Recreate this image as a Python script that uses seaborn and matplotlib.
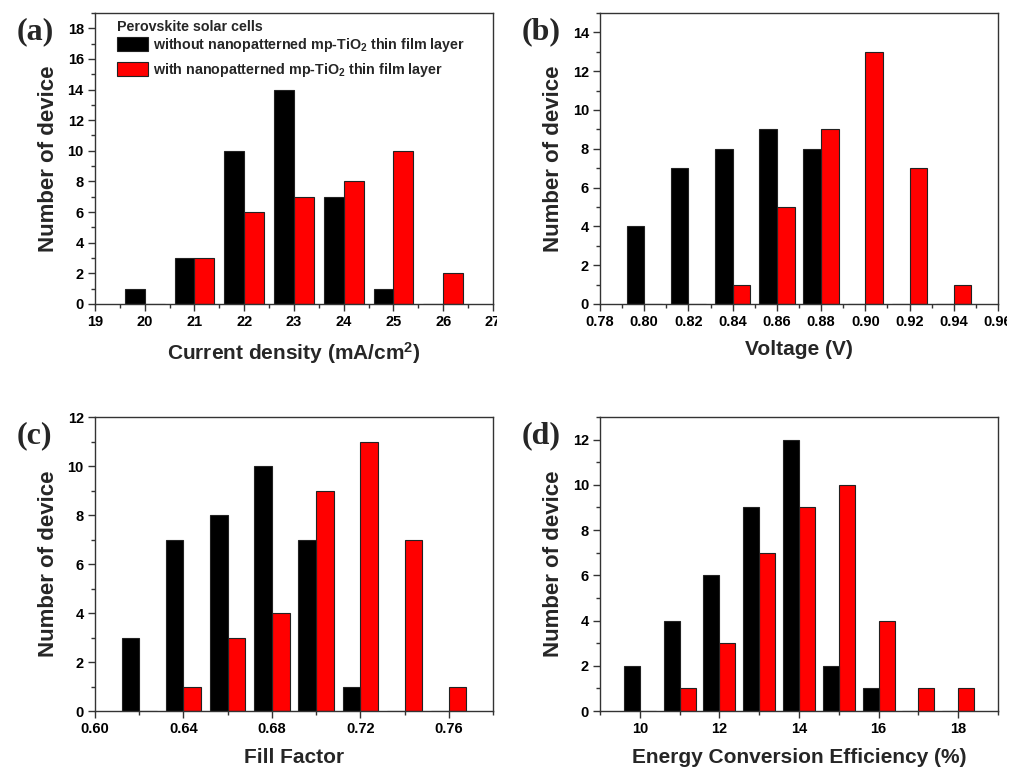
import pandas as pd
import matplotlib
matplotlib.use("agg")
import matplotlib.pyplot as plt
from matplotlib.patches import Patch
from matplotlib.ticker import MultipleLocator
from matplotlib.transforms import Bbox, TransformedBbox
import seaborn as sns

# ---------------- datos ----------------
jsc_bins = [20, 21, 22, 23, 24, 25, 26]
jsc_without = [1, 3, 10, 14, 7, 1, 0]
jsc_with = [0, 3, 6, 7, 8, 10, 2]

voc_bins = [0.80, 0.82, 0.84, 0.86, 0.88, 0.90, 0.92, 0.94]
voc_without = [4, 7, 8, 9, 8, 0, 0, 0]
voc_with = [0, 0, 1, 5, 9, 13, 7, 1]

ff_bins = [0.62, 0.64, 0.66, 0.68, 0.70, 0.72, 0.74, 0.76]
ff_without = [3, 7, 8, 10, 7, 1, 0, 0]
ff_with = [0, 1, 3, 4, 9, 11, 7, 1]

pce_bins = [10, 11, 12, 13, 14, 15, 16, 17, 18]
pce_without = [2, 4, 6, 9, 12, 2, 1, 0, 0]
pce_with = [0, 1, 3, 7, 9, 10, 4, 1, 1]

groups = ["without", "with"]
legend_labels = ["without nanopatterned mp-TiO$_2$ thin film layer",
                 "with nanopatterned mp-TiO$_2$ thin film layer"]
colores = {"without": "black", "with": "#ff0000"}

# ---------------- estilo ----------------
sns.set_style("ticks")
plt.rcParams['font.family'] = ['Liberation Sans', 'DejaVu Sans']
plt.rcParams['font.weight'] = 'bold'
plt.rcParams['mathtext.fontset'] = 'custom'
plt.rcParams['mathtext.rm'] = 'Liberation Sans:bold'
plt.rcParams['mathtext.bf'] = 'Liberation Sans:bold'
plt.rcParams['mathtext.it'] = 'Liberation Sans:bold'
plt.rcParams['axes.edgecolor'] = '#333333'
plt.rcParams['xtick.color'] = '#333333'
plt.rcParams['ytick.color'] = '#333333'
plt.rcParams['xtick.labelcolor'] = 'black'
plt.rcParams['ytick.labelcolor'] = 'black'


def tabla(bins, sin, con):
    filas = []
    for b, a, c in zip(bins, sin, con):
        filas.append({"x": b, "n": a, "g": "without"})
        filas.append({"x": b, "n": c, "g": "with"})
    return pd.DataFrame(filas)


paneles = [
    # datos, paso, xlim, ylim, major x, minor x, xlabel, letra, posicion
    (tabla(jsc_bins, jsc_without, jsc_with), 1, (19, 27), (0, 19), 1, 0.5,
     "Current density (mA/cm$^2$)", "(a)", [0.0932, 0.6037, 0.3906, 0.3794]),
    (tabla(voc_bins, voc_without, voc_with), 0.02, (0.78, 0.96), (0, 15), 0.02, 0.01,
     "Voltage (V)", "(b)", [0.5888, 0.6037, 0.3906, 0.3794]),
    (tabla(ff_bins, ff_without, ff_with), 0.02, (0.60, 0.78), (0, 12), 0.04, 0.02,
     "Fill Factor", "(c)", [0.0932, 0.0730, 0.3906, 0.3833]),
    (tabla(pce_bins, pce_without, pce_with), 1, (9, 19), (0, 13), 2, 1,
     "Energy Conversion Efficiency (%)", "(d)", [0.5888, 0.0730, 0.3906, 0.3833]),
]

fig = plt.figure(figsize=(10.19, 7.67), dpi=100)
ejes = []
for df, paso, xl, yl, mx, mnx, xlabel, letra, pos in paneles:
    ax = fig.add_axes(pos)
    bins = df["x"].unique()
    sns.histplot(data=df, x="x", weights="n", hue="g", hue_order=groups,
                 palette=colores, bins=len(bins),
                 binrange=(bins.min() - paso / 2, bins.max() + paso / 2),
                 multiple="dodge", shrink=0.8, alpha=1, edgecolor="#222222",
                 linewidth=0.8, legend=False, ax=ax)
    ax.set_xlim(*xl)
    ax.set_ylim(*yl)
    ax.xaxis.set_major_locator(MultipleLocator(mx))
    ax.xaxis.set_minor_locator(MultipleLocator(mnx))
    ax.yaxis.set_major_locator(MultipleLocator(2))
    ax.yaxis.set_minor_locator(MultipleLocator(1))
    if paso < 1:
        ax.xaxis.set_major_formatter(matplotlib.ticker.FormatStrFormatter('%.2f'))
    ax.tick_params(which='major', direction='out', length=5, width=1, labelsize=10.5, pad=3)
    ax.tick_params(which='minor', direction='out', length=3, width=1)
    for s in ax.spines.values():
        s.set_linewidth(1)
    ax.set_xlabel(xlabel, fontsize=15, fontweight='bold')
    ax.set_ylabel("Number of device", fontsize=16, fontweight='bold')
    ax.xaxis.set_label_coords(0.5, -0.125)
    ax.yaxis.set_label_coords(-0.09, 0.5)
    fig.text(pos[0] - 0.077, pos[1] + pos[3] - 0.025, letra, family='Liberation Serif',
             fontsize=23, fontweight='bold', ha='left', va='center')
    ejes.append(ax)

# leyenda del panel (a)
ejes[0].text(0.055, 0.952, "Perovskite solar cells", transform=ejes[0].transAxes,
             fontsize=10.3, fontweight='bold', ha='left', va='center')
handles = [Patch(facecolor=colores[g], edgecolor="#222222", linewidth=0.8) for g in groups]
ejes[0].legend(handles, legend_labels,
               prop={'weight': 'bold', 'size': 10.3}, frameon=False,
               loc='upper left', bbox_to_anchor=(0.055, 0.92), borderaxespad=0,
               borderpad=0, handlelength=2.2, handleheight=1.15, handletextpad=0.35,
               labelspacing=0.45)

# las etiquetas finales quedan cortadas como en la imagen original
fig.canvas.draw()
for ax, xmax, corte in [(ejes[0], 27, 497), (ejes[1], 0.96, 1007)]:
    for t in ax.xaxis.get_major_ticks():
        if abs(t.get_loc() - xmax) < 1e-6:
            t.label1.set_clip_box(TransformedBbox(Bbox.from_extents(0, 0, corte / 1019, 1),
                                                  fig.transFigure))
            t.label1.set_clip_on(True)

fig.savefig("out.png", dpi=100)
